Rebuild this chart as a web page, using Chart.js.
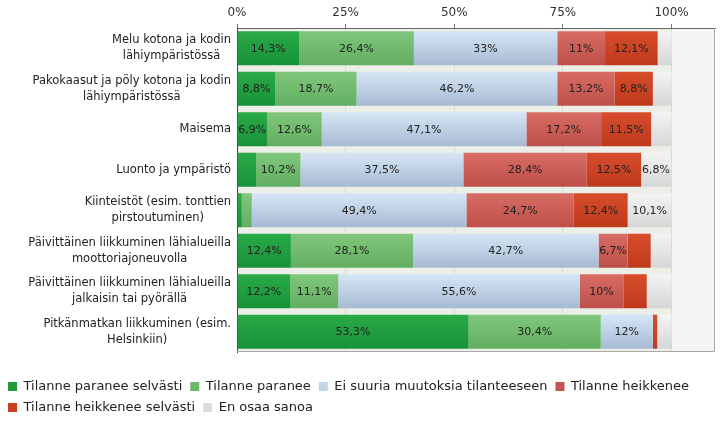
<!DOCTYPE html>
<html><head><meta charset="utf-8">
<script src="https://cdn.jsdelivr.net/npm/chart.js@4.4.1/dist/chart.umd.min.js"></script>
<style>html,body{margin:0;padding:0;background:#fff;}#wrap{width:723px;height:424px;}</style>
</head><body><div id="wrap"><canvas id="c" width="723" height="424"></canvas></div>
<script>
// ---- data ----
const categories = [
  ["Melu kotona ja kodin", "lähiympäristössä"],
  ["Pakokaasut ja pöly kotona ja kodin", "lähiympäristössä"],
  ["Maisema"],
  ["Luonto ja ympäristö"],
  ["Kiinteistöt (esim. tonttien", "pirstoutuminen)"],
  ["Päivittäinen liikkuminen lähialueilla", "moottoriajoneuvolla"],
  ["Päivittäinen liikkuminen lähialueilla", "jalkaisin tai pyörällä"],
  ["Pitkänmatkan liikkuminen (esim.", "Helsinkiin)"]
];
const seriesNames = ["Tilanne paranee selvästi", "Tilanne paranee", "Ei suuria muutoksia tilanteeseen",
                     "Tilanne heikkenee", "Tilanne heikkenee selvästi", "En osaa sanoa"];
const paraneeSelvasti   = [14.3, 8.8, 6.9, 4.4, 1.1, 12.4, 12.2, 53.3];
const paranee           = [26.4, 18.7, 12.6, 10.2, 2.3, 28.1, 11.1, 30.4];
const eiMuutoksia       = [33, 46.2, 47.1, 37.5, 49.4, 42.7, 55.6, 12];
const heikkenee         = [11, 13.2, 17.2, 28.4, 24.7, 6.7, 10, 0];
const heikkeneeSelvasti = [12.1, 8.8, 11.5, 12.5, 12.4, 5.3, 5.4, 1.0];
const enOsaa            = [3.2, 4.3, 4.7, 6.8, 10.1, 4.7, 5.7, 3.3];
const xTickValues = [0, 25, 50, 75, 100];
const xMax = 110;
const labelMin = 6;

// ---- styles ----
const gradTops    = ["#2aaa46", "#80c77c", "#d6e6f6", "#d86d65", "#d74d2c", "#f4f4f4"];
const gradBottoms = ["#17923a", "#62ae60", "#a7bad2", "#bd4f48", "#be391b", "#d6d6d6"];
const legendColors = ["#1f9a36", "#6dba66", "#c3d5ea", "#c9544d", "#c8411f", "#dcdcdc"];
const FONT = '"DejaVu Sans", sans-serif';

function gradFill(i) {
  return function (ctx) {
    const chart = ctx.chart;
    const y = chart.scales && chart.scales.y;
    if (!y || ctx.type !== 'data' || !chart.chartArea) return gradTops[i];
    const c = y.getPixelForValue(ctx.dataIndex);
    const half = (y.height / categories.length) * 0.84 / 2;
    const g = chart.ctx.createLinearGradient(0, c - half, 0, c + half);
    g.addColorStop(0, gradTops[i]);
    g.addColorStop(1, gradBottoms[i]);
    return g;
  };
}

const seriesData = [paraneeSelvasti, paranee, eiMuutoksia, heikkenee, heikkeneeSelvasti, enOsaa];

const bgPlugin = {
  id: 'bg',
  beforeDraw(chart) {
    const { left, right, top, bottom } = chart.chartArea;
    const x100 = chart.scales.x.getPixelForValue(100);
    const ctx = chart.ctx;
    ctx.save();
    ctx.fillStyle = '#eceee8';
    ctx.fillRect(left, top, x100 - left, bottom - top);
    ctx.fillStyle = '#f5f6f3';
    ctx.fillRect(x100, top, right - x100, bottom - top);
    ctx.restore();
  }
};

const valueLabels = {
  id: 'valueLabels',
  afterDatasetsDraw(chart) {
    const ctx = chart.ctx;
    ctx.save();
    ctx.font = '11px ' + FONT;
    ctx.fillStyle = '#222';
    ctx.textAlign = 'center';
    ctx.textBaseline = 'middle';
    chart.data.datasets.forEach((ds, di) => {
      const meta = chart.getDatasetMeta(di);
      meta.data.forEach((el, i) => {
        const v = ds.data[i];
        if (v >= labelMin) {
          const p = el.getProps(['x', 'base', 'y'], true);
          ctx.fillText(String(v).replace('.', ',') + '%', (p.x + p.base) / 2, p.y + 0.5);
        }
      });
    });
    ctx.restore();
  }
};

const catLabels = {
  id: 'catLabels',
  afterDraw(chart) {
    const ctx = chart.ctx;
    const y = chart.scales.y;
    const rightEdge = chart.chartArea.left - 6;
    const lineH = 15.6;
    ctx.save();
    ctx.font = '11.5px ' + FONT;
    ctx.fillStyle = '#222';
    ctx.textAlign = 'center';
    ctx.textBaseline = 'middle';
    categories.forEach((lines, i) => {
      const cy = y.getPixelForValue(i);
      const w = Math.max(...lines.map(l => ctx.measureText(l).width));
      const cx = rightEdge - w / 2;
      lines.forEach((l, k) => ctx.fillText(l, cx, cy + (k - (lines.length - 1) / 2) * lineH));
    });
    // frame right & bottom
    const { right, top, bottom, left } = chart.chartArea;
    ctx.strokeStyle = '#a9a9a9';
    ctx.lineWidth = 1;
    ctx.beginPath();
    ctx.moveTo(right - 0.5, top);
    ctx.lineTo(right - 0.5, bottom - 0.5);
    ctx.lineTo(left, bottom - 0.5);
    ctx.stroke();
    ctx.restore();
  }
};

Chart.defaults.font.family = FONT;

new Chart(document.getElementById('c'), {
  type: 'bar',
  data: {
    labels: categories,
    datasets: seriesNames.map((name, i) => ({
      label: name,
      data: seriesData[i],
      backgroundColor: gradFill(i),
      borderWidth: 0,
      barPercentage: 0.84,
      categoryPercentage: 1
    }))
  },
  options: {
    indexAxis: 'y',
    responsive: false,
    animation: false,
    devicePixelRatio: 1,
    layout: { padding: { left: 0, right: 8, top: 0, bottom: 0 } },
    scales: {
      x: {
        type: 'linear',
        position: 'top',
        stacked: true,
        min: 0,
        max: xMax,
        afterBuildTicks(s) { s.ticks = xTickValues.map(v => ({ value: v })); },
        afterFit(s) { s.height = 28; },
        ticks: {
          callback: v => v + '%',
          color: '#333',
          font: { size: 12, family: FONT },
          padding: 4,
          maxRotation: 0
        },
        grid: { color: '#d9dcd3', tickColor: '#777', tickLength: 4, drawOnChartArea: true },
        border: { color: '#666', width: 1 }
      },
      y: {
        type: 'category',
        stacked: true,
        afterFit(s) { s.width = 237; },
        ticks: { display: false },
        grid: { display: false, drawTicks: false },
        border: { color: '#444', width: 1 }
      }
    },
    plugins: {
      tooltip: { enabled: false },
      legend: {
        position: 'bottom',
        align: 'start',
        title: { display: true, text: '', font: { size: 10, lineHeight: 1 }, padding: { top: 10, bottom: 0 } },
        labels: {
          boxWidth: 9,
          boxHeight: 9,
          padding: 8,
          color: '#222',
          font: { size: 13, family: FONT },
          generateLabels(chart) {
            const items = Chart.defaults.plugins.legend.labels.generateLabels(chart);
            items.forEach((it, i) => { it.fillStyle = legendColors[i]; it.strokeStyle = legendColors[i]; it.lineWidth = 0; });
            return items;
          }
        }
      }
    }
  },
  plugins: [bgPlugin, valueLabels, catLabels]
});
</script>
</body></html>
